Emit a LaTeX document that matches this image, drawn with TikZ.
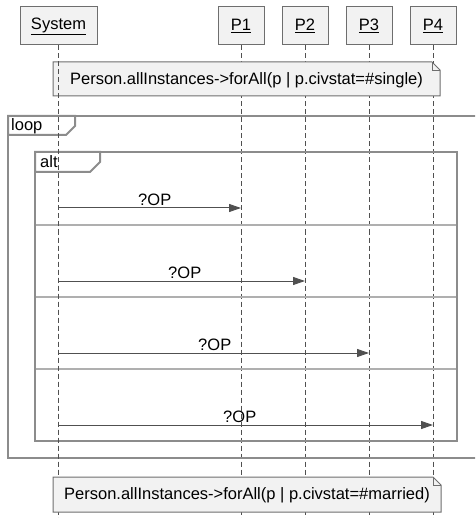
\documentclass[tikz,border=0pt]{standalone}
\usepackage{fontspec}
\setmainfont{Liberation Sans}
\usetikzlibrary{arrows.meta,calc}
\definecolor{framegray}{HTML}{8C8C8C}
\definecolor{boxfill}{HTML}{F2F2F2}
\definecolor{boxdraw}{HTML}{6E6E6E}
\definecolor{linegray}{HTML}{505050}
\tikzset{
  x=1pt,y=-1pt,
  part/.style={draw=boxdraw,fill=boxfill,line width=1pt,minimum height=38pt,inner sep=0pt,font=\fontsize{16.5}{18}\selectfont},
  lifeline/.style={draw=linegray,line width=1pt,dash pattern=on 5pt off 3pt},
  frameline/.style={draw=framegray,line width=2pt},
  sepline/.style={draw=framegray!70,line width=1.5pt},
  msg/.style={draw=linegray,line width=1pt,-{Triangle[length=12pt,width=8pt]}},
  msglabel/.style={font=\fontsize{16.5}{18}\selectfont,above,inner sep=2pt},
  notebox/.style={draw=boxdraw,fill=boxfill,line width=1pt},
  txt/.style={font=\fontsize{16.5}{18}\selectfont,inner sep=0pt}
}
\begin{document}
\begin{tikzpicture}
\useasboundingbox (0,0) rectangle (475,518);
\clip (0,0) rectangle (475,518);
% participants
\node[part,minimum width=77pt] (sys) at (58.5,26) {\underline{System}};
\node[part,minimum width=46pt] (p1) at (241,26) {\underline{P1}};
\node[part,minimum width=46pt] (p2) at (305,26) {\underline{P2}};
\node[part,minimum width=46pt] (p3) at (369,26) {\underline{P3}};
\node[part,minimum width=46pt] (p4) at (433,26) {\underline{P4}};
\foreach \p in {sys,p1,p2,p3,p4}{
  \coordinate (\p end) at (\p.south |- 0,520);
  \draw[lifeline] (\p.south) -- (\p end);
}
% note 1
\draw[notebox] (53,62) -- (432,62) -- (440,70) -- (440,96) -- (53,96) -- cycle;
\draw[boxdraw,line width=0.8pt] (432,62) -- (432,70) -- (440,70);
\node[txt] (n1) at (246.5,80) {Person.allInstances->forAll(p | p.civstat=\#single)};
% loop frame
\draw[frameline] (8,116) rectangle (490,458);
\draw[frameline,fill=white] (8,116) -- (75,116) -- (75,126) -- (66,135) -- (8,135) -- cycle;
\node[txt,anchor=west] (loop) at (11,126) {loop};
% alt frame
\draw[frameline] (35,152) rectangle (457,441);
\draw[frameline,fill=white] (35,152) -- (100,152) -- (100,162) -- (90,172) -- (35,172) -- cycle;
\node[txt,anchor=west] (alt) at (40,162) {alt};
\foreach \yy in {225,297,369}{
  \draw[sepline] (36,\yy) -- (456,\yy);
}
% redraw lifeline segments over tabs
\draw[lifeline] (sys.south) -- (sysend);
% messages
\coordinate (m1) at (0,208);
\coordinate (m2) at (0,281);
\coordinate (m3) at (0,353);
\coordinate (m4) at (0,425);
\draw[msg] (sys |- m1) -- node[msglabel,xshift=5pt] {?OP} (p1 |- m1);
\draw[msg] (sys |- m2) -- node[msglabel,xshift=3pt] {?OP} (p2 |- m2);
\draw[msg] (sys |- m3) -- node[msglabel,xshift=1pt] {?OP} (p3 |- m3);
\draw[msg] (sys |- m4) -- node[msglabel,xshift=-6pt] {?OP} (p4 |- m4);
% note 2
\draw[notebox] (53,477) -- (433,477) -- (441,485) -- (441,512) -- (53,512) -- cycle;
\draw[boxdraw,line width=0.8pt] (433,477) -- (433,485) -- (441,485);
\node[txt] (n2) at (247,495) {Person.allInstances->forAll(p | p.civstat=\#married)};
\end{tikzpicture}
\end{document}
